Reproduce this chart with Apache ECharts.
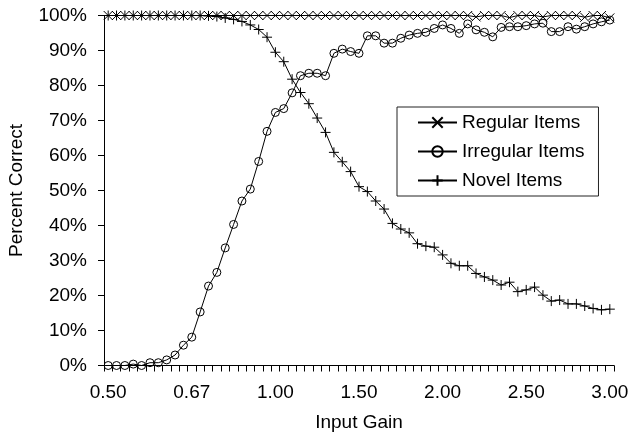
<!DOCTYPE html>
<html lang="en" style="height: 100%">
<head>
  <meta charset="utf-8">
</head>
<body style="height: 100%; margin: 0; background: #fff">
  <div id="container" style="width: 631px; height: 437px"></div>

  <script type="text/javascript" src="https://fastly.jsdelivr.net/npm/echarts@6.0.0/dist/echarts.min.js"></script>
  <script type="text/javascript">
    var dom = document.getElementById('container');
    var myChart = echarts.init(dom, null, { renderer: 'canvas' });

// input gain per step (only every 10th label is shown)
var gains = [
  '0.50', '0.51', '0.53', '0.54', '0.56', '0.57', '0.59', '0.61', '0.63', '0.65',
  '0.67', '0.69', '0.71', '0.74', '0.77', '0.80', '0.83', '0.87', '0.91', '0.95',
  '1.00', '1.05', '1.10', '1.15', '1.20', '1.25', '1.30', '1.35', '1.40', '1.45',
  '1.50', '1.55', '1.60', '1.65', '1.70', '1.75', '1.80', '1.85', '1.90', '1.95',
  '2.00', '2.05', '2.10', '2.15', '2.20', '2.25', '2.30', '2.35', '2.40', '2.45',
  '2.50', '2.55', '2.60', '2.65', '2.70', '2.75', '2.80', '2.85', '2.90', '2.95',
  '3.00'
];

// percent correct
var regularItems = [
  100, 100, 100, 100, 100, 100, 100, 100, 100, 100,
  100, 100, 100, 100, 100, 100, 100, 100, 100, 100,
  100, 100, 100, 100, 100, 100, 100, 100, 100, 100,
  100, 100, 100, 100, 100, 100, 100, 100, 100, 100,
  100, 100, 100, 100, 99.6, 100, 100, 100, 99.4, 100,
  100, 100, 99.6, 100, 100, 100, 100, 99.5, 100, 100,
  99.3
];
var irregularItems = [
  0, 0, 0, 0.4, 0, 0.8, 0.8, 1.6, 3.0, 5.8,
  8.1, 15.3, 22.7, 26.6, 33.6, 40.3, 47.0, 50.4, 58.3, 66.9,
  72.3, 73.4, 77.9, 82.8, 83.5, 83.5, 82.8, 89.2, 90.4, 89.7,
  89.2, 94.2, 94.2, 92.1, 92.1, 93.5, 94.4, 94.9, 95.2, 96.3,
  97.3, 96.3, 94.9, 97.6, 95.9, 95.2, 93.9, 96.6, 96.8, 96.8,
  97.1, 97.6, 97.8, 95.4, 95.4, 96.8, 96.1, 96.8, 97.6, 98.2,
  98.7
];
var novelItems = [
  100, 100, 100, 100, 100, 100, 100, 100, 100, 100,
  100, 100, 99.9, 99.7, 99.3, 98.9, 98.3, 97.3, 96.0, 93.8,
  89.5, 86.8, 81.8, 78.0, 74.8, 70.7, 66.6, 60.9, 58.2, 55.4,
  51.1, 49.7, 47.0, 44.7, 40.6, 39.0, 37.9, 34.8, 34.1, 33.8,
  31.6, 29.2, 28.5, 28.5, 26.3, 25.3, 24.4, 23.0, 23.8, 21.1,
  21.6, 22.4, 20.1, 18.4, 18.7, 17.6, 17.6, 17.0, 16.3, 15.9,
  16.1
];

var font = "'Liberation Sans', Arial, sans-serif";

function lineSeries(name, data, symbol, size) {
  return {
    name: name,
    type: 'line',
    data: data,
    symbol: symbol,
    symbolSize: size,
    showAllSymbol: true,
    lineStyle: { color: '#000', width: 1 },
    itemStyle: { color: 'none', borderColor: '#000', borderWidth: 1 }
  };
}

var option = {
  backgroundColor: '#fff',
  grid: {
    left: 104,
    right: 17,
    top: 15.5,
    bottom: 71.5,
    outerBoundsMode: 'none'
  },
  legend: {
    orient: 'vertical',
    left: 397,
    top: 107,
    padding: [6, 14, 6, 20],
    itemGap: 10,
    itemWidth: 39,
    itemHeight: 13,
    borderColor: '#222',
    borderWidth: 1,
    textStyle: { fontFamily: font, fontSize: 19, color: '#000' },
    data: ['Regular Items', 'Irregular Items', 'Novel Items']
  },
  xAxis: {
    type: 'category',
    data: gains,
    name: 'Input Gain',
    nameLocation: 'middle',
    nameGap: 48,
    nameTextStyle: { fontFamily: font, fontSize: 19, color: '#000' },
    axisLine: { show: true, lineStyle: { color: '#000' } },
    axisTick: { show: true, interval: 0, length: 6, lineStyle: { color: '#000', width: 1 } },
    axisLabel: { interval: 9, margin: 18, fontFamily: font, fontSize: 19, color: '#000' },
    splitLine: { show: false }
  },
  yAxis: {
    type: 'value',
    min: 0,
    max: 100,
    interval: 10,
    name: 'Percent Correct',
    nameLocation: 'middle',
    nameGap: 78,
    nameTextStyle: { fontFamily: font, fontSize: 19, color: '#000' },
    axisLine: { show: true, lineStyle: { color: '#000' } },
    axisTick: { show: true, length: 6, lineStyle: { color: '#000', width: 1 } },
    axisLabel: { formatter: '{value}%', margin: 17, fontFamily: font, fontSize: 19, color: '#000' },
    splitLine: { show: false }
  },
  series: [
    lineSeries('Regular Items', regularItems, 'path://M0,0L10,10M10,0L0,10', 9),
    lineSeries('Irregular Items', irregularItems, 'circle', 8),
    lineSeries('Novel Items', novelItems, 'path://M5,0L5,10M0,5L10,5', 10)
  ]
};

myChart.setOption(option);
window.addEventListener('resize', myChart.resize);
  </script>
</body>
</html>
